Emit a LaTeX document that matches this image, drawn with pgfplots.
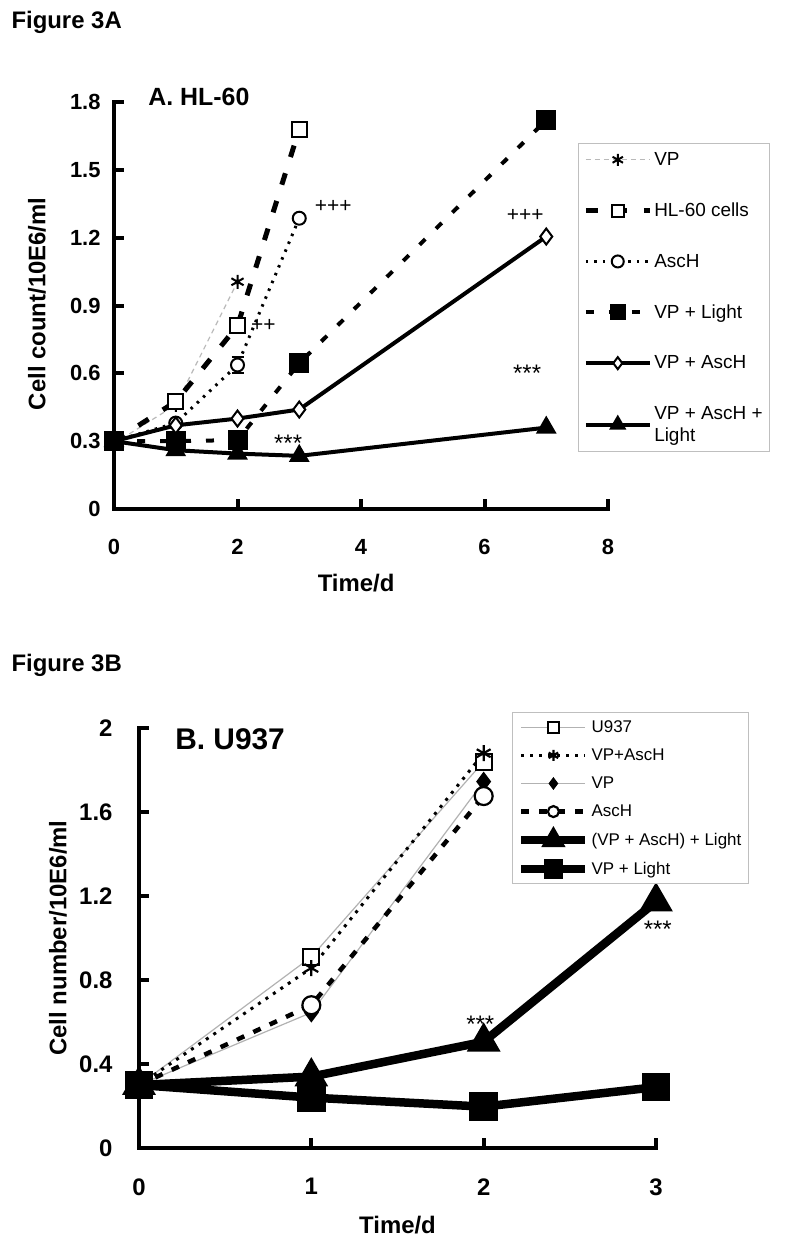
\documentclass[border=0pt]{standalone}
\usepackage{fontspec}
\setmainfont{Liberation Sans}
\usepackage{pgfplots}
\pgfplotsset{compat=1.18}
\usetikzlibrary{plotmarks}
\pgfplotsset{
 fig/.style={
  scale only axis, clip=false,
  axis x line*=bottom, axis y line*=left,
  axis line style={line width=4.5bp, black, -},
  tick align=inside,
  major tick length=10bp,
  tick style={black, line width=4bp},
  /pgf/number format/assume math mode=true,
  tick label style={font=\fontsize{22}{26}\selectfont\bfseries},
  label style={font=\fontsize{24}{28}\selectfont\bfseries},
  xticklabel style={yshift=-27bp},
  yticklabel style={xshift=-10bp},
  legend cell align=left,
  legend image code/.code={\draw[mark repeat=2,mark phase=2,##1] plot coordinates {(0bp,0bp) (32bp,0bp) (64bp,0bp)};},
 }
}
\begin{document}
\begin{tikzpicture}
\path[use as bounding box] (0,0) rectangle (792bp,-1251bp);
\node[anchor=west, font=\fontsize{24}{28}\selectfont\bfseries] at (8bp,-22bp) {Figure 3A};
\node[anchor=west, font=\fontsize{24}{28}\selectfont\bfseries] at (8bp,-665bp) {Figure 3B};
% ---------------- Top panel
\begin{axis}[fig, at={(114bp,-509bp)}, anchor=south west, width=494bp, height=407bp,
  xmin=0, xmax=8, ymin=0, ymax=1.8,
  xtick={0,2,4,6,8},
  ytick={0,0.3,0.6,0.9,1.2,1.5,1.8},
  yticklabels={0,0.3,0.6,0.9,1.2,1.5,1.8},
  xlabel={Time/d}, ylabel={Cell count/10E6/ml},
  xlabel style={at={(axis description cs:0.49,-0.182)}, anchor=center},
  ylabel style={at={(axis description cs:-0.156,0.504)}, anchor=center},
  legend image post style={mark size=6bp},
  legend style={at={(axis description cs:0.939,0.899)}, anchor=north west,
    draw=black!25, line width=0.8bp, font=\fontsize{19}{22}\selectfont,
    row sep=32bp, inner xsep=5bp, inner ysep=7bp, cells={align=left}},
]
\draw[line width=4.5bp, black, line cap=rect] (axis cs:0,1.8) -- (axis cs:0,0) -- (axis cs:8,0);
\pgfplotsinvokeforeach{0.3,0.6,0.9,1.2,1.5,1.8}{\draw[line width=4bp, black] (axis cs:0,#1) -- ++(10bp,0);}
\pgfplotsinvokeforeach{2,4,6,8}{\draw[line width=4bp, black] (axis cs:#1,0) -- ++(0,10bp);}
\addplot[gray!55, line width=1.2bp, dash pattern=on 5bp off 4bp, mark=asterisk, mark size=7bp, mark options={black, solid, line width=2bp}] coordinates {(0,0.29)(1,0.46)(2,1.005)};
\addlegendentry{VP}
\addplot[black, line width=5bp, dash pattern=on 12bp off 17bp, mark=square*, mark size=7.5bp, mark options={solid, fill=white, line width=2bp}] coordinates {(0,0.3)(1,0.475)(2,0.81)(3,1.68)};
\addlegendentry{HL-60 cells}
\addplot[black, line width=3bp, dash pattern=on 2.5bp off 6bp, mark=*, mark size=6.5bp, mark options={solid, fill=white, line width=2bp},
  error bars/.cd, y dir=both, y explicit, error bar style={solid, line width=2bp}, error mark options={rotate=90, mark size=6bp, line width=2bp}]
  coordinates {(0,0.3) +- (0,0) (1,0.38) +- (0,0) (2,0.637) +- (0,0.035) (3,1.286) +- (0,0)};
\addlegendentry{AscH}
\addplot[black, line width=4bp, dash pattern=on 8bp off 15bp, mark=square*, mark size=8bp, mark options={solid}] coordinates {(0,0.3)(1,0.30)(2,0.305)(3,0.645)(7,1.72)};
\addlegendentry{VP + Light}
\addplot[black, line width=4bp, mark=diamond*, mark size=8bp, mark options={fill=white, line width=2bp}] coordinates {(0,0.3)(1,0.37)(2,0.40)(3,0.44)(7,1.205)};
\addlegendentry{VP + AscH}
\addplot[black, line width=4bp, mark=triangle*, mark size=8bp] coordinates {(0,0.3)(1,0.26)(2,0.245)(3,0.235)(7,0.36)};
\addlegendentry{VP + AscH +\\Light}
\node[font=\fontsize{25}{30}\selectfont\bfseries, anchor=west] at (axis cs:0.5,1.823) {A. HL-60};
\node[font=\fontsize{21}{24}\selectfont] at (axis cs:3.55,1.34) {+++};
\node[font=\fontsize{21}{24}\selectfont] at (axis cs:2.42,0.81) {++};
\node[font=\fontsize{21}{24}\selectfont] at (axis cs:6.66,1.30) {+++};
\node[font=\fontsize{24}{28}\selectfont] at (axis cs:6.69,0.60) {***};
\node[font=\fontsize{24}{28}\selectfont] at (axis cs:2.82,0.29) {***};
\end{axis}
% ---------------- Bottom panel
\begin{axis}[fig, at={(139bp,-1148bp)}, anchor=south west, width=517bp, height=420bp,
  xmin=0, xmax=3, ymin=0, ymax=2,
  xtick={0,1,2,3},
  ytick={0,0.4,0.8,1.2,1.6,2},
  yticklabels={0,0.4,0.8,1.2,1.6,2},
  tick label style={font=\fontsize{24}{28}\selectfont\bfseries},
  yticklabel style={xshift=-13bp},
  xlabel={Time/d}, ylabel={Cell number/10E6/ml},
  xlabel style={at={(axis description cs:0.5,-0.183)}, anchor=center},
  ylabel style={at={(axis description cs:-0.157,0.5)}, anchor=center},
  legend image post style={mark size=5.5bp},
  legend style={at={(axis description cs:0.721,1.038)}, anchor=north west,
    draw=black!25, line width=0.8bp, font=\fontsize{17}{20}\selectfont,
    row sep=11bp, inner xsep=5bp, inner ysep=6bp},
]
\draw[line width=4.5bp, black, line cap=rect] (axis cs:0,2) -- (axis cs:0,0) -- (axis cs:3,0);
\pgfplotsinvokeforeach{0.4,0.8,1.2,1.6,2}{\draw[line width=4bp, black] (axis cs:0,#1) -- ++(10bp,0);}
\pgfplotsinvokeforeach{1,2,3}{\draw[line width=4bp, black] (axis cs:#1,0) -- ++(0,10bp);}
\addplot[gray!60, line width=1.2bp, mark=square*, mark size=8bp, mark options={black, fill=white, line width=2bp}] coordinates {(0,0.3)(1,0.91)(2,1.84)};
\addlegendentry{U937}
\addplot[black, line width=3bp, dash pattern=on 3bp off 6bp, mark=asterisk, mark size=8bp, mark options={solid, line width=2.2bp}] coordinates {(0,0.3)(1,0.857)(2,1.88)};
\addlegendentry{VP+AscH}
\addplot[gray!60, line width=1.2bp, mark=diamond*, mark size=9bp, mark options={black, fill=black}] coordinates {(0,0.3)(1,0.645)(2,1.745)};
\addlegendentry{VP}
\addplot[black, line width=4.5bp, dash pattern=on 8bp off 10bp, mark=*, mark size=9bp, mark options={solid, fill=white, line width=2.2bp}] coordinates {(0,0.3)(1,0.68)(2,1.676)};
\addlegendentry{AscH}
\addplot[black, line width=8.5bp, mark=triangle*, mark size=11bp] coordinates {(0,0.3)(1,0.34)(2,0.506)(3,1.173)};
\addlegendentry{(VP + AscH) + Light}
\addplot[black, line width=8.5bp, mark=square*, mark size=10bp] coordinates {(0,0.3)(1,0.24)(2,0.197)(3,0.29)};
\addlegendentry{VP + Light}
\node[font=\fontsize{30}{36}\selectfont\bfseries, anchor=west] at (axis cs:0.19,1.948) {B. U937};
\node[font=\fontsize{24}{28}\selectfont] at (axis cs:1.98,0.59) {***};
\node[font=\fontsize{24}{28}\selectfont] at (axis cs:3.01,1.04) {***};
\end{axis}
\end{tikzpicture}
\end{document}
